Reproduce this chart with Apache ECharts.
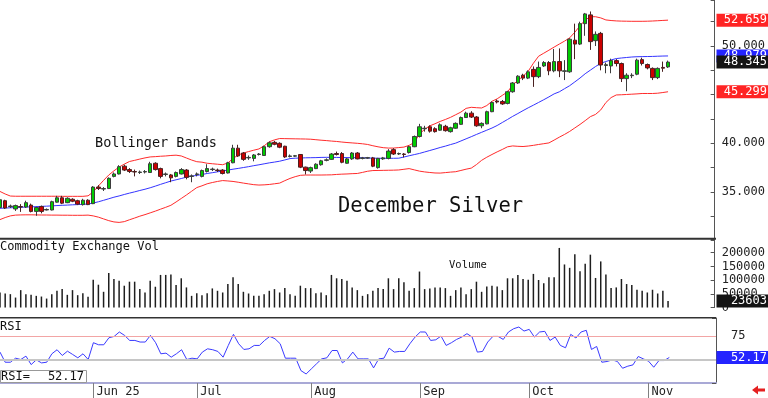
<!DOCTYPE html>
<html>
<head>
<meta charset="utf-8">
<script src="https://cdn.jsdelivr.net/npm/echarts@6/dist/echarts.min.js"></script>
<style>
  html, body { margin: 0; padding: 0; background: #fff; }
  #chart { width: 768px; height: 398px; }
</style>
</head>
<body>
<div id="chart"></div>
<script>
// daily OHLC, December silver (May 6 .. Nov 7)
const opens = [
  33.4,34.1,33.5,33.25,33.5,33.45,33.65,33.0,33.5,33.15,
  33.15,33.95,34.4,33.9,34.25,34.1,33.7,34.15,33.8,35.5,
  35.3,35.35,36.6,36.85,37.65,37.3,37.1,37.0,37.05,37.0,
  37.95,37.4,36.8,36.75,36.6,36.85,37.25,36.6,36.8,36.6,
  37.1,37.3,37.25,37.25,36.95,38.0,39.5,39.0,38.5,38.45,
  38.85,38.75,39.65,40.1,40.0,39.7,38.65,38.68,38.85,37.55,
  37.15,37.4,37.8,38.25,38.35,38.95,38.95,37.95,38.4,39.0,
  38.45,38.48,38.5,37.5,38.4,38.45,39.35,38.9,38.9,39.05,
  39.65,40.7,41.5,41.7,41.5,41.35,41.75,41.2,41.55,41.95,
  42.65,43.1,42.7,41.8,42.0,43.25,44.35,44.3,44.1,45.3,
  46.2,47.0,46.7,47.6,46.85,47.95,48.3,47.45,48.4,47.4,
  47.35,50.6,50.2,52.3,53.2,50.55,51.3,48.0,47.95,48.5,
  48.2,46.65,46.95,47.1,48.6,48.1,47.7,46.75,47.8,47.85
];
const closes = [
  34.2,33.35,33.55,33.6,33.45,33.9,33.0,33.4,33.0,33.2,
  34.0,34.4,33.85,34.35,34.05,33.75,34.15,33.7,35.5,35.35,
  35.35,36.4,36.85,37.6,37.25,37.1,37.05,37.05,37.1,37.9,
  37.3,36.6,36.85,36.45,37.0,37.3,36.5,36.65,36.85,37.2,
  37.4,37.35,37.2,36.9,38.0,39.5,38.7,38.35,38.55,38.8,
  38.9,39.65,40.05,39.9,39.6,38.6,38.7,38.72,37.55,37.2,
  37.5,37.85,38.2,38.3,38.9,38.85,38.05,38.4,39.0,38.4,
  38.5,38.52,37.65,38.45,38.5,39.2,38.9,38.95,38.85,39.65,
  40.7,41.7,41.55,41.25,41.2,41.9,41.3,41.6,42.05,42.65,
  43.1,42.7,41.8,42.05,43.25,44.2,44.25,44.05,45.3,46.2,
  46.9,46.7,47.35,46.85,47.8,48.3,47.45,48.4,47.45,47.45,
  50.7,50.2,52.3,53.3,50.45,51.2,48.05,48.08,48.5,48.2,
  46.65,47.0,47.0,48.55,48.2,47.75,46.75,47.7,47.72,48.345
];
const lows = [
  33.3,33.25,33.35,33.05,32.95,33.35,32.9,32.55,32.8,33.1,
  33.1,33.9,33.75,33.85,33.95,33.65,33.6,33.65,33.75,35.2,
  35.1,35.3,36.5,36.8,37.15,36.95,36.6,36.85,36.9,36.95,
  37.2,36.4,36.6,36.0,36.5,36.8,36.3,36.0,36.6,36.5,
  37.0,37.15,37.05,36.8,36.9,37.95,38.6,38.2,38.3,38.15,
  38.75,38.7,39.55,39.8,39.5,38.5,38.55,38.6,37.45,36.8,
  36.95,37.35,37.7,38.15,38.3,38.75,37.95,37.9,38.3,38.35,
  38.35,38.4,37.55,37.4,38.3,38.35,38.8,38.8,38.55,38.95,
  39.6,40.6,41.2,41.1,41.1,41.3,41.2,41.1,41.5,41.9,
  42.6,42.6,41.7,41.55,41.95,43.2,44.1,43.95,44.0,45.2,
  46.1,46.5,46.6,45.8,46.7,47.85,47.0,47.3,46.8,46.5,
  47.25,48.65,50.1,51.05,49.6,50.0,47.5,47.2,47.2,47.9,
  46.3,45.35,46.7,47.0,48.0,47.6,46.5,46.6,47.35,47.75
];
const highs = [
  34.3,34.2,33.7,33.7,33.75,34.1,33.8,33.5,33.6,33.3,
  34.1,34.6,34.6,34.45,34.35,34.2,34.3,34.25,35.6,35.7,
  35.5,36.5,37.0,37.75,37.8,37.45,37.3,37.2,37.25,38.1,
  38.05,37.5,37.0,36.85,37.1,37.45,37.35,36.8,37.0,37.3,
  37.85,37.5,37.4,37.35,38.1,39.85,39.85,39.1,38.75,38.9,
  39.0,39.75,40.2,40.25,40.1,39.75,38.85,38.8,38.9,37.6,
  37.6,37.95,38.3,38.45,39.0,39.15,39.1,38.5,39.1,39.1,
  38.6,38.6,38.6,38.5,38.6,39.4,39.5,39.05,39.0,39.75,
  40.8,42.0,41.8,41.85,41.65,42.05,41.9,41.7,42.15,42.75,
  43.25,43.3,42.8,42.15,43.35,44.3,44.5,44.45,45.4,46.3,
  47.0,47.15,47.5,47.9,48.4,48.45,48.45,49.7,49.75,48.55,
  50.8,52.3,52.5,53.4,53.55,51.5,51.45,48.3,48.7,48.65,
  48.3,47.2,47.2,48.7,48.8,48.2,47.8,47.8,48.4,48.5
];

// Bollinger bands as drawn
const upperBand = [
  35.05,34.79,34.58,34.56,34.56,34.56,34.56,34.56,34.56,34.56,
  34.56,34.56,34.55,34.55,34.55,34.55,34.55,34.6,35.0,35.61,
  36.19,36.74,37.17,37.56,37.86,38.13,38.25,38.38,38.5,38.6,
  38.63,38.67,38.7,38.75,38.78,38.7,38.49,38.28,38.11,38.06,
  37.95,37.9,37.85,37.8,37.98,38.44,38.8,39.0,39.15,39.29,
  39.42,39.74,40.16,40.35,40.49,40.48,40.47,40.46,40.45,40.44,
  40.42,40.37,40.32,40.28,40.23,40.19,40.13,40.08,40.04,40.0,
  39.95,39.88,39.75,39.64,39.55,39.51,39.51,39.56,39.61,39.79,
  40.08,40.96,41.44,41.8,42.01,42.25,42.45,42.67,42.94,43.21,
  43.59,43.7,43.66,43.63,43.88,44.32,44.57,44.93,45.28,45.99,
  46.47,46.89,47.41,48.23,48.95,49.26,49.57,49.89,50.2,50.5,
  50.84,51.42,52.07,52.68,53.01,53.01,52.89,52.68,52.62,52.58,
  52.56,52.55,52.54,52.54,52.54,52.55,52.57,52.6,52.63,52.659
];
const midBand = [
  33.32,33.35,33.37,33.4,33.42,33.45,33.47,33.49,33.52,33.54,
  33.57,33.6,33.63,33.65,33.68,33.7,33.73,33.76,33.86,33.99,
  34.14,34.3,34.46,34.59,34.74,34.88,35.01,35.15,35.28,35.43,
  35.6,35.78,35.95,36.12,36.25,36.38,36.52,36.62,36.7,36.79,
  36.9,36.98,37.07,37.15,37.25,37.34,37.42,37.51,37.6,37.7,
  37.79,37.89,37.99,38.07,38.16,38.29,38.43,38.47,38.49,38.51,
  38.52,38.53,38.55,38.56,38.55,38.55,38.54,38.53,38.53,38.52,
  38.51,38.49,38.48,38.46,38.46,38.46,38.46,38.47,38.59,38.72,
  38.84,38.96,39.11,39.26,39.41,39.57,39.71,39.87,40.02,40.24,
  40.46,40.68,40.91,41.13,41.35,41.57,41.83,42.14,42.45,42.77,
  43.06,43.36,43.65,43.92,44.2,44.48,44.77,45.08,45.29,45.61,
  45.92,46.31,46.71,47.15,47.52,47.89,48.22,48.41,48.57,48.71,
  48.77,48.82,48.87,48.9,48.91,48.92,48.93,48.95,48.97,48.979
];
const lowerBand = [
  32.16,32.37,32.54,32.62,32.64,32.65,32.65,32.64,32.63,32.63,
  32.62,32.62,32.61,32.61,32.6,32.6,32.6,32.62,32.54,32.41,
  32.23,32.05,31.92,31.87,31.95,32.14,32.32,32.51,32.67,32.85,
  33.03,33.23,33.42,33.63,33.97,34.33,34.69,35.07,35.45,35.63,
  35.84,35.97,36.08,36.17,36.13,36.08,36.0,35.91,35.83,35.75,
  35.71,35.73,35.77,35.84,35.91,36.16,36.39,36.57,36.71,36.74,
  36.74,36.74,36.74,36.75,36.76,36.8,36.83,36.85,36.88,36.9,
  37.01,37.13,37.2,37.21,37.22,37.23,37.24,37.26,37.33,37.4,
  37.27,37.14,37.06,37.0,36.95,36.94,36.99,37.04,37.08,37.21,
  37.34,37.45,37.81,38.25,38.57,38.85,39.12,39.37,39.64,39.73,
  39.69,39.67,39.72,39.79,39.88,39.96,40.04,40.33,40.63,40.91,
  41.22,41.58,41.94,42.33,42.74,42.97,43.43,44.19,44.7,44.97,
  44.99,45.02,45.05,45.08,45.12,45.12,45.12,45.15,45.22,45.299
];

const volumes = [
  54800,51100,48700,36300,63400,48700,46200,42500,40000,32600,
  48700,61000,67100,46200,63400,45000,52400,38800,101600,83200,
  57300,126300,104100,97900,79500,94200,94200,67100,54800,97900,
  75800,118900,118900,120100,81900,106600,73300,42500,52400,45000,
  52400,69600,61000,54800,85600,110300,85600,57300,51100,42500,
  42500,48700,61000,67100,54800,70800,48700,42500,79500,70800,
  70800,52400,54800,45000,118900,106600,104100,97900,73300,63400,
  42500,48700,61000,70800,67100,106600,67100,106600,91800,61000,
  70800,131200,67100,69600,73300,73300,70800,42500,63400,73300,
  48700,67100,94200,57300,77000,79500,77000,63400,106600,106600,
  118900,104100,101600,122600,100400,88100,110300,110300,217400,157100,
  144800,194000,132400,159500,192800,107800,168200,120100,70800,73300,
  104100,85600,81900,64700,61000,54800,64700,51100,61000,23603
];

const rsi = [
  57.9,47.1,47.1,51.4,50.0,53.6,44.6,49.6,46.4,47.1,
  56.1,60.4,54.3,58.9,55.4,51.8,56.1,50.0,67.9,65.7,
  65.7,73.2,74.6,79.3,75.7,70.3,70.3,68.6,68.6,75.7,
  67.9,56.1,56.8,52.5,56.1,60.4,50.0,51.4,50.7,57.9,
  61.4,60.4,58.6,52.5,65.0,76.8,66.8,60.7,61.4,65.0,
  65.0,70.3,74.6,72.1,66.8,51.4,51.4,51.4,38.2,34.6,
  40.0,45.4,50.7,51.8,59.6,59.6,46.4,50.7,57.9,50.7,
  50.7,50.7,41.1,50.7,51.4,62.1,57.9,58.6,58.6,66.8,
  73.9,79.3,79.3,70.3,71.0,75.0,65.0,67.9,71.4,73.9,
  77.5,73.9,57.9,58.6,68.6,74.6,74.6,71.4,79.3,82.8,
  84.6,80.3,82.1,73.9,79.3,80.0,70.3,73.9,65.0,62.5,
  76.8,72.9,79.3,81.1,60.7,63.9,47.1,47.9,49.6,47.9,
  40.7,42.9,44.3,53.2,50.7,48.2,41.8,48.9,48.9,52.17
];
const rsiLevels = [75, 50];

const monthLabels = ['Jun 25', 'Jul', 'Aug', 'Sep', 'Oct', 'Nov'];
const holidays = ['2025-05-26', '2025-06-19', '2025-07-04', '2025-09-01', '2025-11-27'];

// trading days, a few empty ones past the last bar
const dates = [];
for (let d = new Date(Date.UTC(2025, 4, 6)); dates.length < 139; d.setUTCDate(d.getUTCDate() + 1)) {
  const wd = d.getUTCDay();
  const s = d.toISOString().slice(0, 10);
  if (wd === 0 || wd === 6 || holidays.includes(s)) continue;
  dates.push(s);
}
const monthStart = {};
let m = 0;
dates.forEach((s, i) => {
  if (i > 0 && s.slice(5, 7) !== dates[i - 1].slice(5, 7) && m < monthLabels.length) {
    monthStart[i] = monthLabels[m++];
  }
});

const MONO = '"DejaVu Sans Mono", "Liberation Mono", monospace';
const axisText = { fontFamily: MONO, fontSize: 12, color: '#222' };

const chart = echarts.init(document.getElementById('chart'));

const option = {
  animation: false,
  backgroundColor: '#fff',
  grid: [
    { left: 0, right: 52, top: 0, height: 240.6 },
    { left: 0, right: 52, top: 239, height: 68.5 },
    { left: 0, right: 52, top: 318, height: 65 }
  ],
  xAxis: [0, 1, 2].map(g => ({
    type: 'category',
    gridIndex: g,
    data: dates,
    boundaryGap: false,
    show: g === 2,
    axisLine: { show: true, lineStyle: { color: '#a9a9d6', width: 2 } },
    axisTick: {
      show: true,
      alignWithLabel: true,
      length: 15,
      interval: (i) => monthStart[i] !== undefined,
      lineStyle: { color: '#808080', width: 1 }
    },
    axisLabel: {
      ...axisText,
      interval: (i) => monthStart[i] !== undefined,
      formatter: (v, i) => monthStart[i] || '',
      align: 'left',
      margin: 3,
      padding: [0, 0, 0, 3]
    },
    splitLine: { show: false }
  })),
  yAxis: [
    {
      gridIndex: 0, position: 'right', min: 30, max: 54.73, interval: 2.5,
      axisLine: { show: true, lineStyle: { color: '#555', width: 1 } },
      axisTick: { show: true, inside: true, length: 4, lineStyle: { color: '#555' } },
      axisLabel: {
        ...axisText, margin: 7,
        formatter: v => (v >= 35 && v <= 50 && v % 5 === 0) ? v.toFixed(3) : ''
      },
      splitLine: { show: false }
    },
    {
      gridIndex: 1, position: 'right', min: 0, max: 250000, interval: 50000,
      axisLine: { show: true, lineStyle: { color: '#555', width: 1 } },
      axisTick: { show: true, inside: true, length: 4, lineStyle: { color: '#555' } },
      axisLabel: { ...axisText, margin: 7, formatter: v => v <= 200000 ? String(v) : '' },
      splitLine: { show: false }
    },
    {
      gridIndex: 2, position: 'right', min: 25, max: 94.2, interval: 25,
      axisLine: { show: true, lineStyle: { color: '#555', width: 1 } },
      axisTick: { show: true, inside: true, length: 4, lineStyle: { color: '#555' } },
      axisLabel: { ...axisText, margin: 15, formatter: v => v === 75 ? '75' : '' },
      splitLine: { show: false }
    }
  ],
  series: [
    {
      name: 'Upper', type: 'line', xAxisIndex: 0, yAxisIndex: 0, data: upperBand,
      symbol: 'none', lineStyle: { color: '#ff2b2b', width: 1 }, z: 2
    },
    {
      name: 'Middle', type: 'line', xAxisIndex: 0, yAxisIndex: 0, data: midBand,
      symbol: 'none', lineStyle: { color: '#3434ff', width: 1 }, z: 2
    },
    {
      name: 'Lower', type: 'line', xAxisIndex: 0, yAxisIndex: 0, data: lowerBand,
      symbol: 'none', lineStyle: { color: '#ff2b2b', width: 1 }, z: 2
    },
    {
      name: 'Silver', type: 'candlestick', xAxisIndex: 0, yAxisIndex: 0,
      data: opens.map((o, i) => [o, closes[i], lows[i], highs[i]]),
      barWidth: 4,
      itemStyle: {
        color: '#00cc00', color0: '#cc0000',
        borderColor: '#3c3c3c', borderColor0: '#4a2020', borderWidth: 1
      },
      z: 3
    },
    {
      name: 'Volume', type: 'bar', xAxisIndex: 1, yAxisIndex: 1, data: volumes,
      barWidth: 1.5, itemStyle: { color: '#1e1e1e' }
    },
    {
      name: 'RSI', type: 'line', xAxisIndex: 2, yAxisIndex: 2, data: rsi,
      symbol: 'none', lineStyle: { color: '#3a3aff', width: 1 }, z: 3,
      markLine: {
        silent: true, symbol: 'none', label: { show: false },
        data: [
          { yAxis: rsiLevels[0], lineStyle: { color: '#f2a5a5', width: 1, type: 'solid' } },
          { yAxis: rsiLevels[1], lineStyle: { color: '#c6c6c6', width: 2, type: 'solid' } }
        ]
      }
    }
  ]
};
chart.setOption(option);

// static panel furniture
const staticGraphics = [
  { type: 'line', shape: { x1: 0, y1: 238.8, x2: 716, y2: 238.8 }, style: { stroke: '#333', lineWidth: 2 }, z: 10 },
  { type: 'line', shape: { x1: 0, y1: 317.8, x2: 716, y2: 317.8 }, style: { stroke: '#333', lineWidth: 1.5 }, z: 10 },
  { type: 'text', x: 95, y: 143, style: { text: 'Bollinger Bands', font: '13.5px ' + MONO, fill: '#111', verticalAlign: 'middle' }, z: 10 },
  { type: 'text', x: 338, y: 207, style: { text: 'December Silver', font: '20.5px ' + MONO, fill: '#111', verticalAlign: 'middle' }, z: 10 },
  { type: 'text', x: 0, y: 246.5, style: { text: 'Commodity Exchange Vol', font: '12px ' + MONO, fill: '#111', verticalAlign: 'middle' }, z: 10 },
  { type: 'text', x: 449, y: 265, style: { text: 'Volume', font: '10.5px ' + MONO, fill: '#111', verticalAlign: 'middle' }, z: 10 },
  { type: 'text', x: 0, y: 326.5, style: { text: 'RSI', font: '12px ' + MONO, fill: '#111', verticalAlign: 'middle' }, z: 10 },
  { type: 'rect', shape: { x: 0.5, y: 370.5, width: 86, height: 12 }, style: { fill: '#fff', stroke: '#999', lineWidth: 1 }, z: 10 },
  { type: 'text', x: 1, y: 376.5, style: { text: 'RSI=', font: '12px ' + MONO, fill: '#111', verticalAlign: 'middle' }, z: 11 },
  { type: 'text', x: 84, y: 376.5, style: { text: rsi[rsi.length - 1].toFixed(2), font: '12px ' + MONO, fill: '#111', align: 'right', verticalAlign: 'middle' }, z: 11 },
  {
    type: 'polygon',
    shape: { points: [[752, 390], [758, 385.5], [758, 388.5], [765, 388.5], [765, 391.5], [758, 391.5], [758, 394.5]] },
    style: { fill: '#e52020' }, z: 10
  }
];

// last-value tags on the right axis, placed through the axis scales
const last = closes.length - 1;
const tags = [
  { axis: 0, value: upperBand[last], text: upperBand[last].toFixed(3), bg: '#ff2424' },
  { axis: 0, value: midBand[last], text: midBand[last].toFixed(3), bg: '#2424ff' },
  { axis: 0, value: closes[last], text: closes[last].toFixed(3), bg: '#141414' },
  { axis: 0, value: lowerBand[last], text: lowerBand[last].toFixed(3), bg: '#ff2424' },
  { axis: 1, value: volumes[last], text: String(volumes[last]), bg: '#141414' },
  { axis: 2, value: rsi[last], text: rsi[last].toFixed(2), bg: '#2424ff' }
];
const tagGraphics = [];
tags.forEach((t, k) => {
  const py = chart.convertToPixel({ yAxisIndex: t.axis }, t.value);
  tagGraphics.push({
    type: 'rect', shape: { x: 716.5, y: py - 6.5, width: 52, height: 13 },
    style: { fill: t.bg }, z: 20 + k * 2
  });
  tagGraphics.push({
    type: 'text', x: 767, y: py,
    style: { text: t.text, font: '12px ' + MONO, fill: '#fff', align: 'right', verticalAlign: 'middle' },
    z: 21 + k * 2
  });
});

chart.setOption({ graphic: staticGraphics.concat(tagGraphics) });
</script>
</body>
</html>
